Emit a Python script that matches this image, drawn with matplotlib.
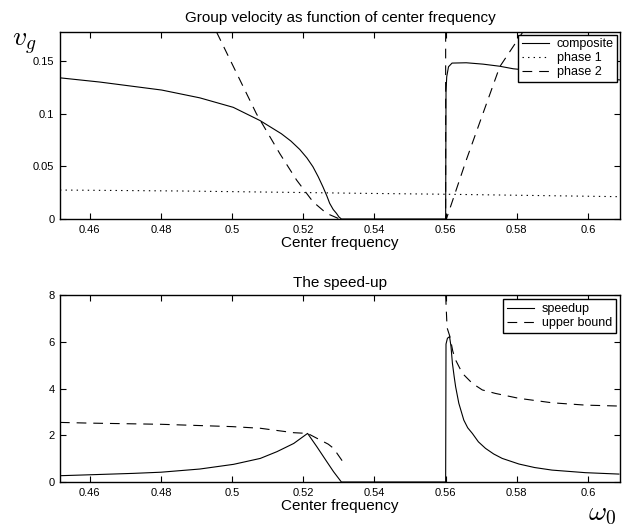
import numpy as np
import matplotlib
matplotlib.use("Agg")
import matplotlib.pyplot as plt
from matplotlib.ticker import FormatStrFormatter, MultipleLocator

plt.rcParams["font.family"] = ["Liberation Sans", "DejaVu Sans"]
plt.rcParams["mathtext.fontset"] = "cm"
plt.rcParams["lines.scale_dashes"] = False

# --- group velocity (top panel) ---
comp_x = [0.4516, 0.4628, 0.4802, 0.4909, 0.5003, 0.5078, 0.5138, 0.5165, 0.5190,
          0.5210, 0.5227, 0.5242, 0.5255, 0.5266, 0.5274, 0.5284, 0.5293, 0.5300,
          0.5307, 0.5600, 0.5601, 0.5603, 0.5608, 0.5618, 0.5658, 0.5705, 0.5752,
          0.5790, 0.5900, 0.6000, 0.6090]
comp_y = [0.134, 0.130, 0.1224, 0.1150, 0.106, 0.0935, 0.081, 0.074, 0.066,
          0.058, 0.0496, 0.040, 0.0306, 0.022, 0.0149, 0.009, 0.0054, 0.002,
          0.0, 0.0, 0.120, 0.135, 0.1445, 0.148, 0.1483, 0.147, 0.145,
          0.1426, 0.139, 0.135, 0.132]

ph1_x = [0.4516, 0.4853, 0.5183, 0.5358, 0.5600, 0.6087]
ph1_y = [0.0275, 0.0266, 0.0252, 0.0244, 0.0235, 0.0212]

ph2_x = [0.4956, 0.5068, 0.5134, 0.5181, 0.5227, 0.5265, 0.5302, np.nan,
         0.5600, 0.5600, 0.5602, 0.5658, 0.5705, 0.5752, 0.5817]
ph2_y = [0.1775, 0.100, 0.062, 0.037, 0.0164, 0.0054, 0.0, np.nan,
         0.1775, 0.0, 0.0, 0.056, 0.1003, 0.1445, 0.1775]

# --- speed-up (bottom panel) ---
spd_x = [0.4516, 0.4600, 0.4722, 0.4800, 0.4909, 0.5004, 0.5079, 0.5126, 0.5173,
         0.5212, 0.5238, 0.5266, 0.5285, 0.5307, 0.5600, 0.5601, 0.5605, 0.5611,
         0.5615, 0.5619, 0.5624, 0.5628, 0.5637, 0.5651, 0.5662, 0.5675, 0.5692,
         0.5712, 0.5735, 0.5759, 0.5806, 0.5850, 0.5899, 0.5993, 0.6087]
spd_y = [0.27, 0.31, 0.37, 0.42, 0.556, 0.757, 1.01, 1.30, 1.65,
         2.08, 1.51, 0.87, 0.44, 0.0, 0.0, 5.9, 6.15, 6.22,
         5.8, 5.08, 4.5, 4.08, 3.37, 2.65, 2.32, 2.08, 1.72,
         1.44, 1.20, 1.01, 0.77, 0.62, 0.51, 0.40, 0.34]

ub_x = [0.4516, 0.4600, 0.4800, 0.5000, 0.5079, 0.5173, 0.5212, 0.5247, 0.5270,
        0.5285, 0.5300, 0.5311, np.nan, 0.5600, 0.5604, 0.5612, 0.5620, 0.5628,
        0.5647, 0.5675, 0.5703, 0.5740, 0.5806, 0.5899, 0.5993, 0.6087]
ub_y = [2.55, 2.52, 2.47, 2.37, 2.30, 2.11, 2.08, 1.80, 1.62,
        1.44, 1.11, 0.87, np.nan, 8.0, 6.6, 6.22, 5.6, 5.22,
        4.65, 4.22, 3.94, 3.79, 3.58, 3.39, 3.29, 3.25]

XLIM = (0.4516, 0.609)
DASH = (0, (7, 5))
DOT = (0, (1, 3))


def style_axes(ax):
    ax.set_xlim(*XLIM)
    ax.xaxis.set_major_locator(MultipleLocator(0.02))
    ax.xaxis.set_major_formatter(FormatStrFormatter("%g"))
    ax.yaxis.set_major_formatter(FormatStrFormatter("%g"))
    ax.tick_params(direction="in", top=True, right=True, length=4.5, width=0.8,
                   labelsize=8, pad=4)
    for s in ax.spines.values():
        s.set_linewidth(1.0)
    ax.set_xlabel("Center frequency", fontsize=11, labelpad=1)


def add_legend(ax, pad):
    leg = ax.legend(loc="upper right", fontsize=9, labelspacing=0.15, borderpad=0.3,
                    handlelength=2.2, handletextpad=0.6, borderaxespad=pad,
                    fancybox=False, framealpha=1)
    leg.get_frame().set_edgecolor("k")
    leg.get_frame().set_linewidth(1.0)


fig = plt.figure(figsize=(6.26, 5.29), dpi=100)
ax1 = fig.add_axes([0.0958, 0.586, 0.8946, 0.3535])
ax2 = fig.add_axes([0.0958, 0.0888, 0.8946, 0.3535])

ax1.plot(comp_x, comp_y, color="k", lw=0.8, label="composite")
ax1.plot(ph1_x, ph1_y, color="k", lw=0.8, ls=DOT, label="phase 1")
ax1.plot(ph2_x, ph2_y, color="k", lw=0.8, ls=DASH, label="phase 2")
style_axes(ax1)
ax1.set_ylim(0, 0.1775)
ax1.yaxis.set_major_locator(MultipleLocator(0.05))
ax1.set_title("Group velocity as function of center frequency", fontsize=11, pad=7)
add_legend(ax1, 0.2)

ax2.plot(spd_x, spd_y, color="k", lw=0.8, label="speedup")
ax2.plot(ub_x, ub_y, color="k", lw=0.8, ls=DASH, label="upper bound")
style_axes(ax2)
ax2.set_ylim(0, 8)
ax2.yaxis.set_major_locator(MultipleLocator(2))
ax2.set_title("The speed-up", fontsize=11, pad=6)
add_legend(ax2, 0.35)

fig.text(12 / 626, 1 - 46 / 529, r"$v_g$", fontsize=20, va="baseline", ha="left")
fig.text(588 / 626, 9 / 529, r"$\omega_0$", fontsize=20, va="baseline", ha="left")

fig.savefig("out.png", dpi=100)
